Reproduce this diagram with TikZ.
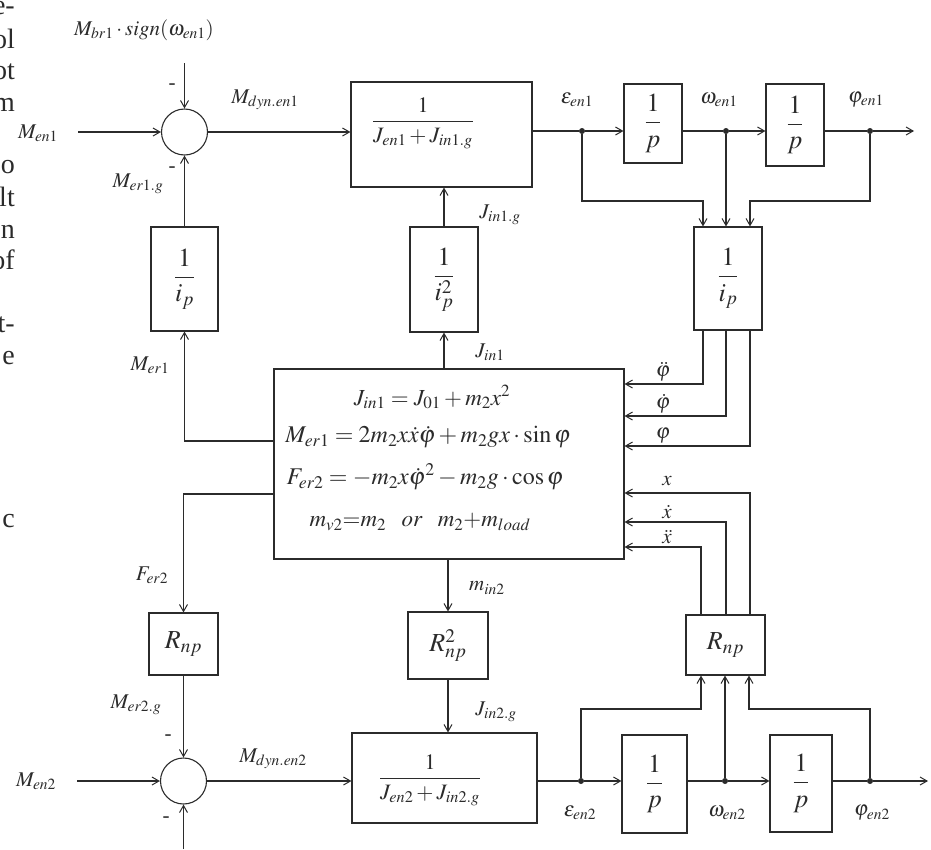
\documentclass[tikz,border=0pt]{standalone}
\usepackage{mathptmx}
\usepackage{fontspec}
\setmainfont{Liberation Serif}
\usetikzlibrary{arrows.meta,calc}
\definecolor{ink}{HTML}{2B2B2B}
\tikzset{
  line/.style={draw=ink, line width=1.1pt},
  arr/.style={line, -{Straight Barb[length=7pt,width=8pt,line width=1pt]}},
  blk/.style={draw=ink, line width=1.1pt, inner sep=0pt, text=ink},
  sumc/.style={circle, draw=ink, line width=1.1pt, minimum size=46pt, inner sep=0pt},
  dotn/.style={circle, fill=ink, inner sep=0pt, minimum size=6pt},
  lab/.style={font=\fontsize{21}{24}\selectfont, inner sep=0pt, text=ink},
  eqn/.style={font=\fontsize{23}{26}\selectfont, inner sep=0pt, text=ink},
  eqnw/.style={font=\fontsize{24}{27}\selectfont, inner sep=0pt, text=ink},
  bigfrac/.style={font=\fontsize{22}{26}\selectfont, inner sep=0pt, text=ink},
  fr/.style={font=\fontsize{26}{30}\selectfont},
  stray/.style={font=\fontsize{28}{32}\selectfont, anchor=mid east, inner sep=0pt, text=ink}
}
\begin{document}
\begin{tikzpicture}[x=1pt,y=-1pt]
\useasboundingbox (0,0) rectangle (931,849);
% stray text fragments at left edge
\node[stray] (s1) at (15,12) {e-};
\node[stray] (s2) at (15,46) {ol};
\node[stray] (s3) at (15,77) {ot};
\node[stray] (s4) at (15,109) {m};
\node[stray] (s5) at (15,171) {o};
\node[stray] (s6) at (15,204) {lt};
\node[stray] (s7) at (15,236) {n};
\node[stray] (s8) at (15,267) {of};
\node[stray] (s9) at (15,330) {t-};
\node[stray] (s10) at (15,362) {e};
\node[stray] (s11) at (15,525) {c};

% ---- blocks ----
\node[sumc] (S1) at (184.5,132) {};
\node[blk, minimum width=181pt, minimum height=105pt] (B1) at (441.5,134.5) {};
\node[bigfrac] (B1t) at (423,123) {$\displaystyle\frac{1}{J_{en1}+J_{in1.g}}$};
\node[blk, fr, minimum width=58pt, minimum height=79pt] (P1) at (653,123.5) {$\displaystyle\frac{1}{p}$};
\node[blk, fr, minimum width=58pt, minimum height=82pt] (P2) at (795,125) {$\displaystyle\frac{1}{p}$};
\node[dotn] (d1) at (582,131) {};
\node[dotn] (d2) at (726,131) {};
\node[dotn] (d3) at (870,131) {};
\coordinate (out1) at (914,131);
\node[blk, fr, minimum width=68pt, minimum height=103pt] (Ip) at (728,278.5) {$\displaystyle\frac{1}{i_p}$};
\node[blk, fr, minimum width=67pt, minimum height=104pt] (Ia) at (184.5,279) {$\displaystyle\frac{1}{i_p}$};
\node[blk, fr, minimum width=68pt, minimum height=105pt] (Ib) at (444,279.5) {$\displaystyle\frac{1}{i_p^2}$};
\node[blk, minimum width=350pt, minimum height=190pt] (M) at (449,464) {};
\node[eqn] (e1t) at (432,397) {$J_{in1}=J_{01}+m_2x^2$};
\node[eqnw] (e2t) at (428,437) {$M_{er1}=2m_2x\dot{x}\dot{\varphi}+m_2gx\cdot\sin\varphi$};
\node[eqnw] (e3t) at (425,477) {$F_{er2}=-m_2x\dot{\varphi}^2-m_2g\cdot\cos\varphi$};
\node[eqn] (e4t) at (420,522) {$m_{v2}{=}m_2\;\;\; or\;\;\; m_2{+}m_{load}$};
\node[blk, fr, minimum width=69pt, minimum height=62pt] (Ra) at (183.5,644) {$R_{np}$};
\node[blk, fr, minimum width=80pt, minimum height=67pt] (Rb) at (448,645.5) {$R_{np}^2$};
\node[blk, fr, minimum width=79pt, minimum height=60pt] (Rc) at (725.5,645) {$R_{np}$};
\node[sumc] (S2) at (183.5,781) {};
\node[blk, minimum width=185pt, minimum height=90pt] (B2) at (444.5,778) {};
\node[bigfrac] (B2t) at (430,780) {$\displaystyle\frac{1}{J_{en2}+J_{in2.g}}$};
\node[blk, fr, minimum width=65pt, minimum height=98pt] (P3) at (654.5,784) {$\displaystyle\frac{1}{p}$};
\node[blk, fr, minimum width=62pt, minimum height=97pt] (P4) at (801,783.5) {$\displaystyle\frac{1}{p}$};
\node[dotn] (q1d) at (581,781) {};
\node[dotn] (q2d) at (725,781) {};
\node[dotn] (q3d) at (870,781) {};
\coordinate (out2) at (928,781);

% ---- top chain ----
\coordinate (in1) at (78,132);
\draw[arr] (in1) -- (S1.west);
\coordinate (top1) at (184.5,63);
\draw[arr] (top1) -- (S1.north);
\draw[arr] (S1.east) -- (S1.east -| B1.west);
\draw[line] (B1.east |- d1) -- (d1);
\draw[arr] (d1) -- (d1 -| P1.west);
\draw[line] (P1.east |- d2) -- (d2);
\draw[arr] (d2) -- (d2 -| P2.west);
\draw[line] (P2.east |- d3) -- (d3);
\draw[arr] (d3) -- (out1);
% feedback into 1/i_p
\coordinate (f1) at (703,201);
\coordinate (f3) at (750,201);
\draw[arr] (d1) |- (f1) -- (f1 |- Ip.north);
\draw[arr] (d2) -- (d2 |- Ip.north);
\draw[arr] (d3) |- (f3) -- (f3 |- Ip.north);
% 1/i_p outputs into main block
\coordinate (g1) at (703,384);
\coordinate (g2) at (726,416);
\coordinate (g3) at (750,446);
\draw[arr] (g1 |- Ip.south) -- (g1) -- (g1 -| M.east);
\draw[arr] (g2 |- Ip.south) -- (g2) -- (g2 -| M.east);
\draw[arr] (g3 |- Ip.south) -- (g3) -- (g3 -| M.east);
% R_np outputs into main block
\coordinate (h1) at (750,493);
\coordinate (h2) at (726,522);
\coordinate (h3) at (701,547);
\draw[arr] (h1 |- Rc.north) -- (h1) -- (h1 -| M.east);
\draw[arr] (h2 |- Rc.north) -- (h2) -- (h2 -| M.east);
\draw[arr] (h3 |- Rc.north) -- (h3) -- (h3 -| M.east);
% left side
\coordinate (k1) at (184.5,441);
\draw[arr] (k1 -| M.west) -- (k1) -- (k1 |- Ia.south);
\draw[arr] (Ia.north) -- (S1.south);
\draw[arr] (Ib.south |- M.north) -- (Ib.south);
\draw[arr] (Ib.north) -- (Ib.north |- B1.south);
\coordinate (k2) at (183.5,494);
\draw[arr] (k2 -| M.west) -- (k2) -- (k2 |- Ra.north);
\draw[arr] (Ra.south) -- (S2.north);
% bottom chain
\coordinate (in2) at (77,781);
\draw[arr] (in2) -- (S2.west);
\coordinate (bot2) at (183.5,849);
\draw[arr] (bot2) -- (S2.south);
\draw[arr] (S2.east) -- (S2.east -| B2.west);
\draw[arr] (Rb.north |- M.south) -- (Rb.north);
\draw[arr] (Rb.south) -- (Rb.south |- B2.north);
\draw[line] (B2.east |- q1d) -- (q1d);
\draw[arr] (q1d) -- (q1d -| P3.west);
\draw[line] (P3.east |- q2d) -- (q2d);
\draw[arr] (q2d) -- (q2d -| P4.west);
\draw[line] (P4.east |- q3d) -- (q3d);
\draw[arr] (q3d) -- (out2);
\coordinate (r1) at (701,709);
\coordinate (r3) at (749,709);
\draw[arr] (q1d) |- (r1) -- (r1 |- Rc.south);
\draw[arr] (q2d) -- (q2d |- Rc.south);
\draw[arr] (q3d) |- (r3) -- (r3 |- Rc.south);

% ---- labels ----
\node[lab] (l1) at (144,30) {$M_{br1}\cdot sign(\omega_{en1})$};
\node[lab] (l2) at (38,133) {$M_{en1}$};
\node[lab] (l3) at (172,87) {-};
\node[lab] (l4) at (172,170) {-};
\node[lab] (l5) at (138,184) {$M_{er1.g}$};
\node[lab] (l6) at (265,100) {$M_{dyn.en1}$};
\node[lab] (l7) at (577,100) {$\varepsilon_{en1}$};
\node[lab] (l8) at (719,100) {$\omega_{en1}$};
\node[lab] (l9) at (866,100) {$\varphi_{en1}$};
\node[lab] (l10) at (500,215) {$J_{in1.g}$};
\node[lab] (l11) at (490,352) {$J_{in1}$};
\node[lab] (l12) at (150,365) {$M_{er1}$};
\node[lab, anchor=south] (l13) at (663,381) {$\ddot{\varphi}$};
\node[lab, anchor=south] (l14) at (663,413) {$\dot{\varphi}$};
\node[lab, anchor=south] (l15) at (663,443) {$\varphi$};
\node[lab, anchor=south] (l16) at (667,486) {$x$};
\node[lab, anchor=south] (l17) at (667,519) {$\dot{x}$};
\node[lab, anchor=south] (l18) at (667,544) {$\ddot{x}$};
\node[lab] (l19) at (152,575) {$F_{er2}$};
\node[lab] (l20) at (487,588) {$m_{in2}$};
\node[lab] (l21) at (136,705) {$M_{er2.g}$};
\node[lab] (l22) at (496,712) {$J_{in2.g}$};
\node[lab] (l23) at (168,738) {-};
\node[lab] (l24) at (273,759) {$M_{dyn.en2}$};
\node[lab] (l25) at (36,781) {$M_{en2}$};
\node[lab] (l26) at (166,820) {-};
\node[lab] (l27) at (580,813) {$\varepsilon_{en2}$};
\node[lab] (l28) at (727,813) {$\omega_{en2}$};
\node[lab] (l29) at (872,813) {$\varphi_{en2}$};
\end{tikzpicture}
\end{document}
